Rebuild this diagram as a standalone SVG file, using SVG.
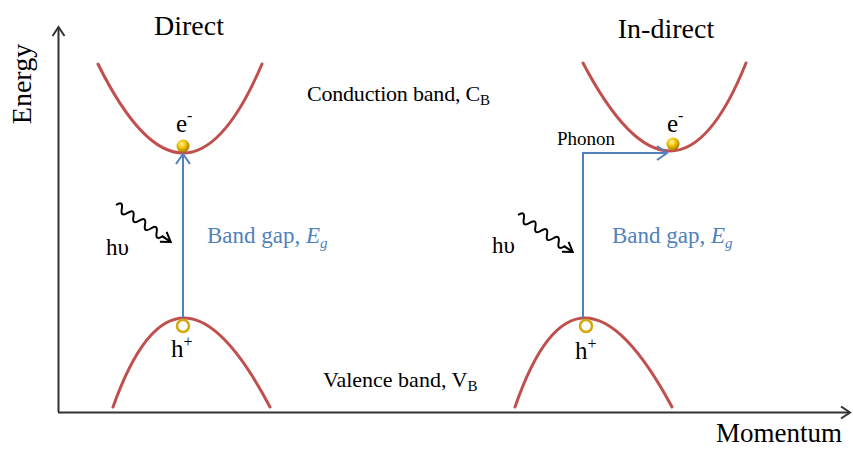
<svg xmlns="http://www.w3.org/2000/svg" width="853" height="449" viewBox="0 0 853 449" font-family="'Liberation Serif','Times New Roman',serif">
<style>
text{font-family:"Liberation Serif","Times New Roman",serif;fill:#000}
.band{fill:none;stroke:#C0504D;stroke-width:3;stroke-linecap:round}
.tr{fill:none;stroke:#4F81BD;stroke-width:2}
.ax{fill:none;stroke:#333;stroke-width:2}
.wave{fill:none;stroke:#000;stroke-width:2}
.bg{fill:#4F81BD;font-size:23px}
.hole{fill:#fff;stroke:#D4A90F;stroke-width:2.5}
</style>
<defs>
<marker id="ah" markerWidth="14" markerHeight="14" refX="11" refY="7" orient="auto" markerUnits="userSpaceOnUse">
<path d="M2,1 L11,7 L2,13" fill="none" stroke="#333" stroke-width="2"/>
</marker>
<marker id="ab" markerWidth="14" markerHeight="16" refX="11" refY="8" orient="auto" markerUnits="userSpaceOnUse">
<path d="M1,1 L11,8 L1,15" fill="none" stroke="#4F81BD" stroke-width="2"/>
</marker>
<marker id="aw" markerWidth="14" markerHeight="14" refX="11" refY="7" orient="auto" markerUnits="userSpaceOnUse">
<path d="M2,1 L11,7 L2,13" fill="none" stroke="#000" stroke-width="2"/>
</marker>
<radialGradient id="gold" cx="0.4" cy="0.35" r="0.7">
<stop offset="0" stop-color="#FFF6A0"/>
<stop offset="0.45" stop-color="#F2C200"/>
<stop offset="1" stop-color="#9A6B00"/>
</radialGradient>
</defs>

<g id="axes">
<line class="ax" x1="58.5" y1="412" x2="58.5" y2="27" marker-end="url(#ah)"/>
<line class="ax" x1="58" y1="412.5" x2="850" y2="412.5" marker-end="url(#ah)"/>
<text x="31" y="84" font-size="28" text-anchor="middle" transform="rotate(-90 31 84)">Energy</text>
<text x="779" y="442" font-size="27" text-anchor="middle">Momentum</text>
</g>

<g id="direct">
<text x="189" y="35" font-size="28" text-anchor="middle">Direct</text>
<path class="band" d="M98,64 Q186,242 262,64"/>
<path class="band" d="M113,407 Q176.5,229 270,407"/>
</g>

<g id="indirect">
<text x="666" y="38" font-size="28" text-anchor="middle">In-direct</text>
<path class="band" d="M583,63 Q675.5,239 746,63"/>
<path class="band" d="M515,407 Q576.5,229 672,407"/>
</g>

<g id="labels">
<text x="307" y="101" font-size="22" letter-spacing="-0.2">Conduction band,  C<tspan font-size="15" dy="4">B</tspan></text>
<text x="323" y="387" font-size="22">Valence band, V<tspan font-size="15" dy="4">B</tspan></text>
</g>

<g id="connectors">
<line class="tr" x1="183" y1="318" x2="183" y2="154" marker-end="url(#ab)"/>
<path class="tr" d="M583,318 V153 H667" marker-end="url(#ab)"/>
<path class="wave" transform="translate(116,205) rotate(34)" d="M0,0 q3.5,-8 7,0 t7,0 t7,0 t7,0 t7,0 t7,0 t7,0 t7,0 l10,0" marker-end="url(#aw)"/>
<path class="wave" transform="translate(518,215) rotate(34)" d="M0,0 q3.5,-8 7,0 t7,0 t7,0 t7,0 t7,0 t7,0 t7,0 t7,0 l10,0" marker-end="url(#aw)"/>
</g>

<g id="direct-carriers">
<circle cx="183" cy="146" r="6.5" fill="url(#gold)"/>
<text x="176" y="132" font-size="25">e<tspan font-size="16" dy="-11">-</tspan></text>
<circle class="hole" cx="183" cy="326" r="6"/>
<text x="171" y="357" font-size="25">h<tspan font-size="16" dy="-10">+</tspan></text>
<text x="106" y="255" font-size="23">hυ</text>
<text class="bg" x="207" y="243">Band gap, <tspan font-style="italic">E</tspan><tspan font-style="italic" font-size="15" dy="5">g</tspan></text>
</g>

<g id="indirect-carriers">
<circle cx="673" cy="144" r="6.5" fill="url(#gold)"/>
<text x="667" y="132" font-size="25">e<tspan font-size="16" dy="-11">-</tspan></text>
<circle class="hole" cx="586" cy="326" r="6"/>
<text x="575" y="359" font-size="25">h<tspan font-size="16" dy="-10">+</tspan></text>
<text x="492" y="253" font-size="23">hυ</text>
<text class="bg" x="612" y="243">Band gap, <tspan font-style="italic">E</tspan><tspan font-style="italic" font-size="15" dy="5">g</tspan></text>
<text x="557" y="145" font-size="19">Phonon</text>
</g>
</svg>
